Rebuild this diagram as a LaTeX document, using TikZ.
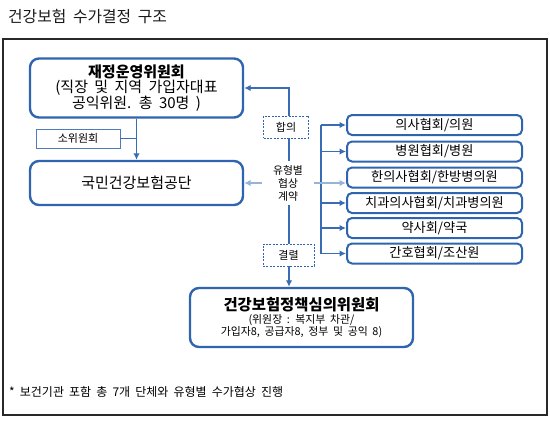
\documentclass[tikz,border=0pt]{standalone}
\usepackage{fontspec}
\setmainfont[WordSpace=1.9]{Noto Sans CJK KR}
\usetikzlibrary{arrows.meta,calc}
\definecolor{boxblue}{RGB}{47,100,175}
\definecolor{linkblue}{RGB}{58,108,182}
\definecolor{lightblue}{RGB}{150,180,216}
\definecolor{framegray}{RGB}{40,40,40}
\tikzset{
  bigbox/.style={draw=boxblue, line width=2.4pt, rounded corners=9pt, fill=white, align=center, inner sep=0pt},
  orgbox/.style={draw=boxblue, line width=2pt, rounded corners=5pt, fill=white, minimum width=175pt, minimum height=20pt, inner sep=0pt, font=\fontsize{13.2}{14}\selectfont},
  subbox/.style={draw=boxblue!85, line width=0.8pt, fill=white, inner sep=0pt, font=\fontsize{11}{13}\selectfont},
  dashbox/.style={draw=boxblue, line width=0.8pt, dash pattern=on 2pt off 1.4pt, fill=white, inner sep=0pt, font=\fontsize{11}{13}\selectfont},
  conn/.style={draw=linkblue, line width=1.3pt},
  lightconn/.style={draw=lightblue, line width=1.3pt},
  tip/.tip={Latex[length=6.5pt,width=6.5pt]},
  plain/.style={inner sep=0pt, align=left}
}
\begin{document}
\begin{tikzpicture}[x=1pt,y=-1pt]
\useasboundingbox (0,0) rectangle (550,424);
\draw[framegray, line width=2pt] (3,39) rectangle (547,415);
\node[plain, anchor=west, text=black!90, font=\fontsize{15.8}{18}\selectfont] (title) at (8,17) {건강보험 수가결정 구조};

\node[bigbox, minimum width=213pt, minimum height=59pt] (jj) at (136.5,88)
  {\fontsize{15}{17.5}\selectfont\bfseries 재정운영위원회\\[0pt]
   \fontsize{15}{17.5}\selectfont (직장 및 지역 가입자대표\\
   \fontsize{15}{17.5}\selectfont 공익위원. 총 30명 )};
\node[subbox, minimum width=84pt, minimum height=19pt] (sowi) at (78,138.5) {소위원회};
\node[bigbox, minimum width=213pt, minimum height=44pt, font=\fontsize{15}{16}\selectfont] (gd) at (136.5,183) {국민건강보험공단};

\coordinate (spine) at (289,0);
\coordinate (br) at (321,0);
\node[dashbox, minimum width=45pt, minimum height=22pt] (hapui) at (286,127) {합의};
\node[plain, align=center, minimum width=51pt, minimum height=44pt, font=\fontsize{10.8}{13}\selectfont] (yh) at (288,183) {유형별\\협상\\계약};
\node[dashbox, minimum width=51pt, minimum height=22pt] (gy) at (288.5,255) {결렬};

\node[orgbox] (r1) at (434.5,125) {의사협회/의원};
\node[orgbox] (r2) at (434.5,151.5) {병원협회/병원};
\node[orgbox] (r3) at (434.5,177.5) {한의사협회/한방병의원};
\node[orgbox] (r4) at (434.5,203) {치과의사협회/치과병의원};
\node[orgbox] (r5) at (434.5,228) {약사회/약국};
\node[orgbox] (r6) at (434.5,253.5) {간호협회/조산원};

\node[bigbox, minimum width=223pt, minimum height=59pt] (sm) at (301.5,317.5)
  {\fontsize{15.4}{17}\selectfont\bfseries 건강보험정책심의위원회\\[1pt]
   \fontsize{10.9}{12.5}\selectfont (위원장 : 복지부 차관/\\
   \fontsize{10.9}{12.5}\selectfont 가입자8, 공급자8, 정부 및 공익 8)};

\node[plain, anchor=west, font=\fontsize{12}{14}\selectfont] (note) at (9,392) {* 보건기관 포함 총 7개 단체와 유형별 수가협상 진행};

% connectors
\draw[conn, -tip] (jj.south) -- (gd.north);
\draw[conn] (sowi.east) -- (sowi.east -| jj.south);
\draw[conn, -tip] (spine |- hapui.north) |- (jj.east);
\draw[conn] (spine |- hapui.south) -- (spine |- yh.north);
\draw[conn] (spine |- yh.south) -- (spine |- gy.north);
\draw[conn, -tip] (spine |- gy.south) -- (spine |- sm.north);
\draw[lightconn, -tip] (yh.west) -- (yh.west -| gd.east);
\draw[conn] (br |- r1.west) -- (br |- r6.west);
\foreach \k in {r1,r2,r4,r5,r6} {
  \draw[conn, -tip] (br |- \k.west) -- (\k.west);
}
\draw[lightconn, -tip] (yh.east) -- (yh.east -| r3.west);
\end{tikzpicture}
\end{document}
